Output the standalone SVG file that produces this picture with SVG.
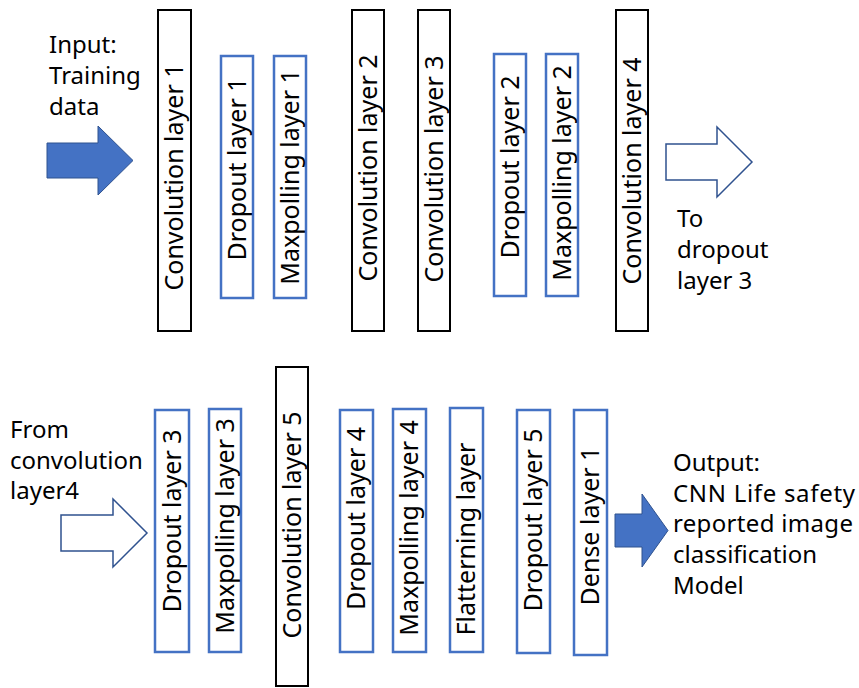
<svg xmlns="http://www.w3.org/2000/svg" width="859" height="688" viewBox="0 0 859 688">
<style>
text{font-family:"Noto Sans","Open Sans","Liberation Sans",sans-serif;fill:#000}
.lbl{font-size:24px}
.rot{font-size:25px;text-anchor:middle}
.conv{fill:#fff;stroke:#000;stroke-width:2}
.blue{fill:#fff;stroke:#4472C4;stroke-width:2.5}
.afill{fill:#4472C4;stroke:#2F528F;stroke-width:1}
.aout{fill:#fff;stroke:#2F528F;stroke-width:1.5}
</style>
<rect width="859" height="688" fill="#fff"/>
<g id="connectors">
<polygon class="afill" points="47,143 98,143 98,126 133,160.5 98,195 98,178 47,178"/>
<polygon class="aout" points="666,144 717,144 717,127 752,162 717,197 717,180 666,180"/>
<polygon class="aout" points="61,515 113,515 113,499 147,533 113,567 113,551 61,551"/>
<polygon class="afill" points="615,514 642,514 642,494 668,530.5 642,567 642,547 615,547"/>
</g>
<g id="input-label">
<text class="lbl" x="49" y="53">Input:</text>
<text class="lbl" x="49" y="84">Training</text>
<text class="lbl" x="49" y="115">data</text>
</g>
<g id="to-label">
<text class="lbl" x="677" y="227">To</text>
<text class="lbl" x="677" y="258">dropout</text>
<text class="lbl" x="677" y="289">layer 3</text>
</g>
<g id="from-label">
<text class="lbl" x="10" y="438">From</text>
<text class="lbl" x="10" y="468.5">convolution</text>
<text class="lbl" x="10" y="499">layer4</text>
</g>
<g id="output-label">
<text class="lbl" x="673" y="471">Output:</text>
<text class="lbl" x="673" y="502" textLength="182">CNN Life safety</text>
<text class="lbl" x="673" y="532" textLength="180">reported image</text>
<text class="lbl" x="673" y="563">classification</text>
<text class="lbl" x="673" y="594">Model</text>
</g>
<g id="conv1"><rect class="conv" x="158" y="10" width="33" height="321"/><text class="rot" dy="0.35em" transform="translate(174.5,177) rotate(-90)">Convolution layer 1</text></g>
<g id="dropout1"><rect class="blue" x="221" y="56" width="32" height="242"/><text class="rot" dy="0.35em" transform="translate(237,169) rotate(-90)">Dropout layer 1</text></g>
<g id="maxpool1"><rect class="blue" x="274" y="56" width="32" height="242"/><text class="rot" dy="0.35em" transform="translate(290,177) rotate(-90)">Maxpolling layer 1</text></g>
<g id="conv2"><rect class="conv" x="352" y="10" width="32" height="321"/><text class="rot" dy="0.35em" transform="translate(368,168) rotate(-90)">Convolution layer 2</text></g>
<g id="conv3"><rect class="conv" x="418" y="10" width="32" height="321"/><text class="rot" dy="0.35em" transform="translate(434,169) rotate(-90)">Convolution layer 3</text></g>
<g id="dropout2"><rect class="blue" x="494" y="54" width="32" height="242"/><text class="rot" dy="0.35em" transform="translate(510,167) rotate(-90)">Dropout layer 2</text></g>
<g id="maxpool2"><rect class="blue" x="546" y="54" width="32" height="242"/><text class="rot" dy="0.35em" transform="translate(562,173) rotate(-90)">Maxpolling layer 2</text></g>
<g id="conv4"><rect class="conv" x="616" y="10" width="32" height="321"/><text class="rot" dy="0.35em" transform="translate(632,171) rotate(-90)">Convolution layer 4</text></g>
<g id="dropout3"><rect class="blue" x="155" y="410" width="34" height="242"/><text class="rot" dy="0.35em" transform="translate(172,521) rotate(-90)">Dropout layer 3</text></g>
<g id="maxpool3"><rect class="blue" x="209" y="409" width="32" height="243"/><text class="rot" dy="0.35em" transform="translate(225,526) rotate(-90)">Maxpolling layer 3</text></g>
<g id="conv5"><rect class="conv" x="276" y="367" width="32" height="319"/><text class="rot" dy="0.35em" transform="translate(292,525) rotate(-90)">Convolution layer 5</text></g>
<g id="dropout4"><rect class="blue" x="340" y="410" width="33" height="242"/><text class="rot" dy="0.35em" transform="translate(356.5,518.5) rotate(-90)">Dropout layer 4</text></g>
<g id="maxpool4"><rect class="blue" x="393" y="409" width="33" height="243"/><text class="rot" dy="0.35em" transform="translate(409.5,528) rotate(-90)">Maxpolling layer 4</text></g>
<g id="flattening"><rect class="blue" x="450" y="408" width="33" height="244"/><text class="rot" dy="0.35em" transform="translate(466.5,539) rotate(-90)">Flatterning layer</text></g>
<g id="dropout5"><rect class="blue" x="517" y="410" width="33" height="243"/><text class="rot" dy="0.35em" transform="translate(533.5,520) rotate(-90)">Dropout layer 5</text></g>
<g id="dense1"><rect class="blue" x="574" y="410" width="33" height="245"/><text class="rot" dy="0.35em" transform="translate(590.5,526) rotate(-90)">Dense layer 1</text></g>
</svg>
